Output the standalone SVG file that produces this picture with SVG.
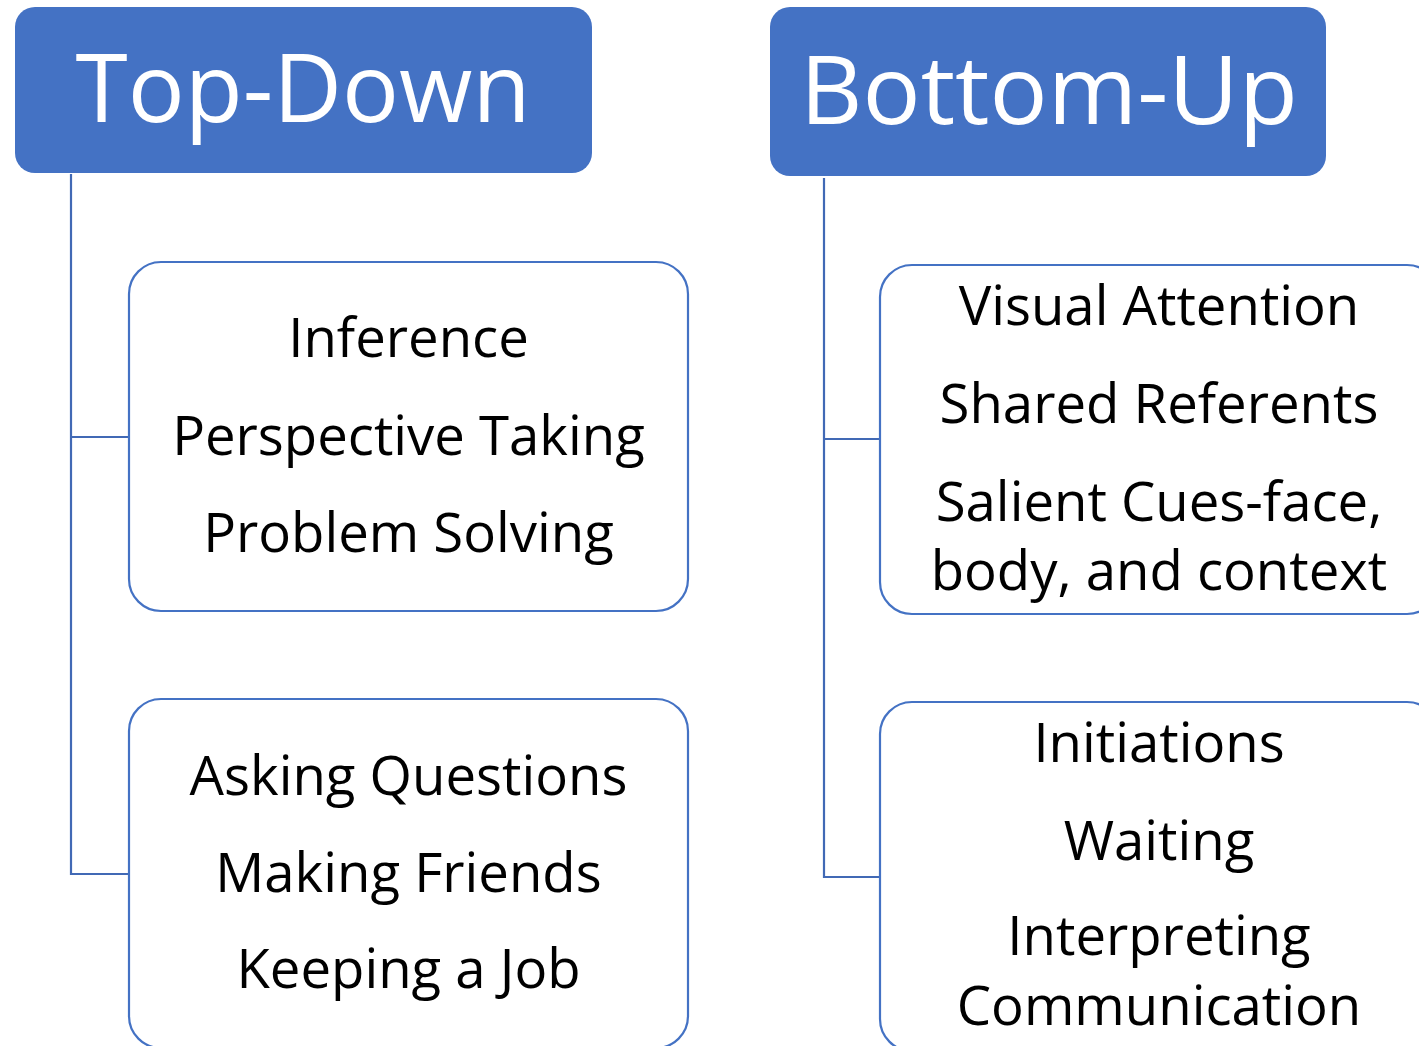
<svg xmlns="http://www.w3.org/2000/svg" width="1419" height="1046" viewBox="0 0 1419 1046">
<style>
.hdr{fill:#4472C4;}
.hdrt{font-family:"Open Sans","Noto Sans",sans-serif;font-size:96px;fill:#FFFFFF;text-anchor:middle;}
.box{fill:#FFFFFF;stroke:#4472C4;stroke-width:2.2;}
.t{font-family:"Open Sans","Noto Sans",sans-serif;font-size:54.5px;fill:#000000;text-anchor:middle;}
.con{fill:none;stroke:#4169B5;stroke-width:2.2;}
</style>
<rect width="1419" height="1046" fill="#FFFFFF"/>
<g id="connectors">
<path class="con" d="M71,174 V874 H129 M71,437 H129"/>
<path class="con" d="M824,178 V877 H880 M824,439 H880"/>
</g>
<g id="top-down">
<rect class="hdr" x="15" y="7" width="577" height="166" rx="20"/>
<text class="hdrt" x="303" y="122" textLength="455" lengthAdjust="spacingAndGlyphs">Top-Down</text>
</g>
<g id="bottom-up">
<rect class="hdr" x="770" y="7" width="556" height="169" rx="20"/>
<text class="hdrt" x="1049" y="124" textLength="498" lengthAdjust="spacingAndGlyphs">Bottom-Up</text>
</g>
<g id="td-box1">
<rect class="box" x="129" y="262" width="559" height="349" rx="32"/>
<text class="t" x="408.5" y="357">Inference</text>
<text class="t" x="408.5" y="455">Perspective Taking</text>
<text class="t" x="408.5" y="552">Problem Solving</text>
</g>
<g id="td-box2">
<rect class="box" x="129" y="699" width="559" height="349" rx="32"/>
<text class="t" x="408.5" y="795">Asking Questions</text>
<text class="t" x="408.5" y="892">Making Friends</text>
<text class="t" x="408.5" y="988">Keeping a Job</text>
</g>
<g id="bu-box1">
<rect class="box" x="880" y="265" width="559" height="349" rx="32"/>
<text class="t" x="1159" y="325">Visual Attention</text>
<text class="t" x="1159" y="423">Shared Referents</text>
<text class="t" x="1159" y="521">Salient Cues-face,</text>
<text class="t" x="1159" y="590">body, and context</text>
</g>
<g id="bu-box2">
<rect class="box" x="880" y="702" width="559" height="349" rx="32"/>
<text class="t" x="1159" y="762">Initiations</text>
<text class="t" x="1159" y="860">Waiting</text>
<text class="t" x="1159" y="955">Interpreting</text>
<text class="t" x="1159" y="1025">Communication</text>
</g>
</svg>
